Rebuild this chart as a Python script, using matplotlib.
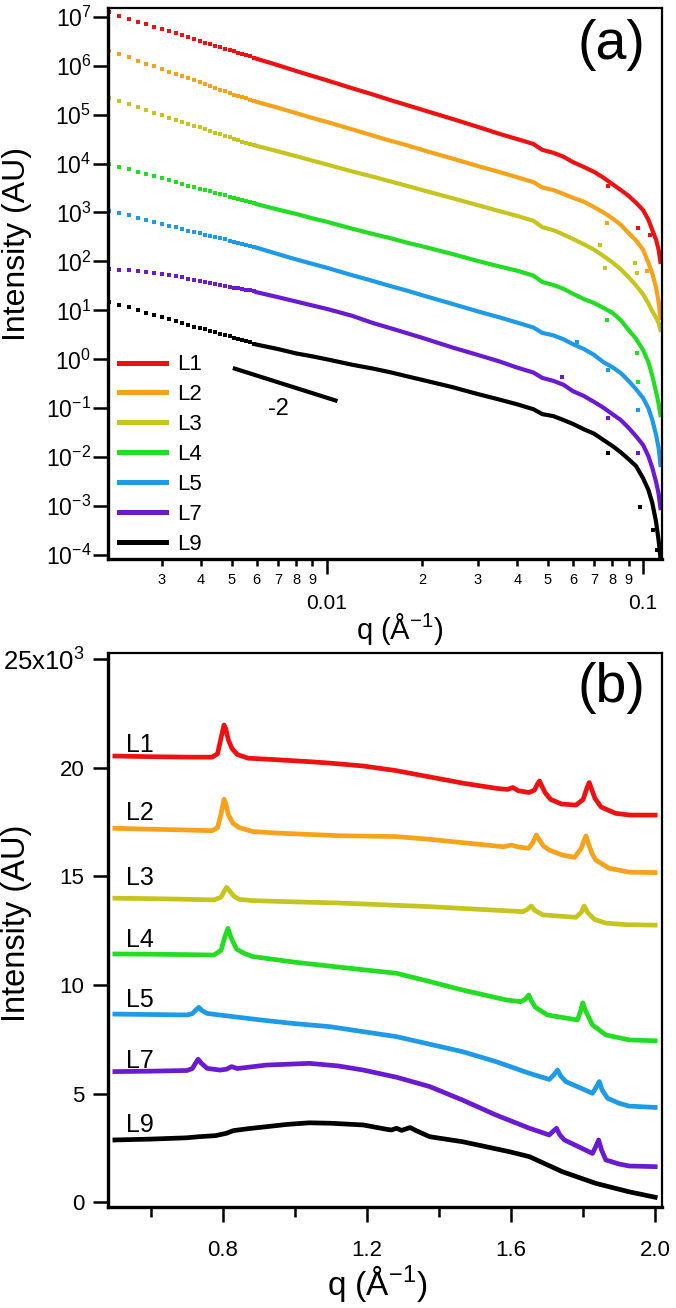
import matplotlib
matplotlib.use("Agg")
import matplotlib.pyplot as plt
from matplotlib.lines import Line2D
from matplotlib.ticker import NullLocator
import numpy as np

plt.rcParams['font.family'] = ['Liberation Sans', 'DejaVu Sans']
plt.rcParams['mathtext.fontset'] = 'custom'
plt.rcParams['mathtext.rm'] = 'Liberation Sans'
plt.rcParams['mathtext.it'] = 'Liberation Sans:italic'
plt.rcParams['mathtext.bf'] = 'Liberation Sans:bold'

names = ['L1', 'L2', 'L3', 'L4', 'L5', 'L7', 'L9']
colors = ['#EE1111', '#F7A21B', '#C6C41E', '#22DD22', '#1E9AE6', '#6A1AD0', '#000000']

# ---- panel (a): SAXS, log10 intensity ----
q_dots = [0.00204, 0.00220, 0.00236, 0.00252, 0.00268, 0.00284, 0.00300, 0.00316,
          0.00332, 0.00348, 0.00364, 0.00380, 0.00396, 0.00412, 0.00428, 0.00444,
          0.00460, 0.00476, 0.00492, 0.00508, 0.00524, 0.00540, 0.00556, 0.00572, 0.00588]
dots_L1 = [7.09, 7.02, 6.96, 6.90, 6.85, 6.80, 6.75, 6.71, 6.66, 6.62, 6.58, 6.54, 6.51,
           6.47, 6.44, 6.41, 6.38, 6.35, 6.32, 6.29, 6.26, 6.24, 6.21, 6.19, 6.16]
dots_L2 = [6.31, 6.24, 6.17, 6.10, 6.04, 5.99, 5.93, 5.88, 5.83, 5.79, 5.74, 5.70, 5.66,
           5.62, 5.58, 5.55, 5.51, 5.48, 5.45, 5.41, 5.38, 5.35, 5.33, 5.30, 5.27]
dots_L3 = [5.34, 5.27, 5.21, 5.15, 5.09, 5.04, 4.99, 4.94, 4.90, 4.85, 4.81, 4.77, 4.74,
           4.70, 4.66, 4.63, 4.60, 4.57, 4.54, 4.51, 4.48, 4.45, 4.43, 4.40, 4.37]
dots_L4 = [3.99, 3.93, 3.88, 3.83, 3.78, 3.74, 3.70, 3.66, 3.62, 3.58, 3.55, 3.52, 3.49,
           3.46, 3.43, 3.40, 3.37, 3.35, 3.32, 3.30, 3.27, 3.25, 3.23, 3.21, 3.19]
dots_L5 = [3.04, 2.99, 2.94, 2.89, 2.85, 2.81, 2.77, 2.73, 2.70, 2.67, 2.63, 2.60, 2.58,
           2.55, 2.52, 2.50, 2.47, 2.45, 2.42, 2.40, 2.38, 2.36, 2.34, 2.32, 2.30]
dots_L7 = [1.84, 1.83, 1.82, 1.80, 1.78, 1.76, 1.74, 1.72, 1.70, 1.68, 1.65, 1.63, 1.61,
           1.59, 1.56, 1.54, 1.52, 1.50, 1.48, 1.46, 1.45, 1.43, 1.42, 1.41, 1.39]
dots_L9 = [1.17, 1.11, 1.06, 1.00, 0.95, 0.91, 0.86, 0.82, 0.78, 0.74, 0.71, 0.67, 0.64,
           0.61, 0.58, 0.55, 0.52, 0.49, 0.47, 0.44, 0.42, 0.39, 0.37, 0.35, 0.32]

q_line = [0.006, 0.007, 0.008, 0.009, 0.010, 0.012, 0.014, 0.016, 0.018, 0.020, 0.025,
          0.030, 0.035, 0.040, 0.045, 0.048, 0.052, 0.056, 0.060, 0.065, 0.070, 0.075,
          0.080, 0.085, 0.090, 0.095, 0.100, 0.104, 0.107, 0.110, 0.112, 0.1135]
line_L1 = [6.14, 6.01, 5.89, 5.79, 5.70, 5.54, 5.41, 5.29, 5.19, 5.10, 4.91, 4.75, 4.61,
           4.50, 4.40, 4.28, 4.22, 4.14, 4.03, 3.93, 3.83, 3.71, 3.58, 3.46, 3.34, 3.20,
           3.05, 2.85, 2.64, 2.44, 2.24, 1.99]
line_L2 = [5.26, 5.14, 5.03, 4.93, 4.85, 4.70, 4.57, 4.46, 4.37, 4.28, 4.10, 3.95, 3.83,
           3.72, 3.62, 3.51, 3.46, 3.38, 3.30, 3.22, 3.11, 3.00, 2.88, 2.75, 2.58, 2.43,
           2.24, 1.97, 1.75, 1.46, 1.17, 0.84]
line_L3 = [4.36, 4.25, 4.15, 4.06, 3.98, 3.84, 3.73, 3.63, 3.54, 3.46, 3.29, 3.15, 3.03,
           2.93, 2.83, 2.70, 2.64, 2.55, 2.46, 2.35, 2.24, 2.11, 1.98, 1.84, 1.68, 1.51,
           1.33, 1.14, 0.98, 0.85, 0.74, 0.60]
line_L4 = [3.17, 3.06, 2.97, 2.88, 2.81, 2.67, 2.56, 2.47, 2.38, 2.31, 2.15, 2.01, 1.90,
           1.81, 1.71, 1.58, 1.52, 1.44, 1.34, 1.23, 1.15, 1.05, 0.95, 0.80, 0.60, 0.42,
           0.19, -0.06, -0.34, -0.67, -0.91, -1.14]
line_L5 = [2.28, 2.15, 2.04, 1.95, 1.87, 1.72, 1.60, 1.49, 1.40, 1.31, 1.13, 0.98, 0.86,
           0.75, 0.65, 0.54, 0.49, 0.41, 0.31, 0.21, 0.09, -0.06, -0.16, -0.28, -0.44,
           -0.61, -0.79, -1.00, -1.24, -1.55, -1.81, -2.16]
line_L7 = [1.37, 1.27, 1.18, 1.10, 1.03, 0.89, 0.74, 0.63, 0.53, 0.44, 0.24, 0.09, -0.04,
           -0.17, -0.27, -0.38, -0.44, -0.52, -0.65, -0.75, -0.87, -0.99, -1.12, -1.24,
           -1.40, -1.57, -1.75, -1.98, -2.22, -2.51, -2.75, -3.04]
line_L9 = [0.30, 0.21, 0.12, 0.06, 0.00, -0.11, -0.19, -0.27, -0.35, -0.42, -0.57, -0.71,
           -0.82, -0.92, -1.02, -1.12, -1.16, -1.24, -1.32, -1.43, -1.52, -1.65, -1.77,
           -1.90, -2.04, -2.18, -2.43, -2.67, -2.94, -3.33, -3.70, -4.06]

# stray noisy points at high q (q, log10 I)
out_q_L1, out_I_L1 = [0.0775, 0.0964, 0.1050], [3.54, 2.69, 2.55]
out_q_L2, out_I_L2 = [0.0769, 0.1030], [2.79, 1.80]
out_q_L3, out_I_L3 = [0.0731, 0.0759, 0.0944, 0.0958], [2.34, 1.87, 1.97, 1.76]
out_q_L4, out_I_L4 = [0.0769, 0.0958, 0.0964], [0.80, 0.13, -0.46]
out_q_L5, out_I_L5 = [0.0618, 0.0775, 0.0964], [0.35, -0.22, -1.04]
out_q_L7, out_I_L7 = [0.0555, 0.0775, 0.0964], [-0.36, -1.20, -1.92]
out_q_L9, out_I_L9 = [0.0775, 0.0979, 0.1076, 0.1107], [-1.92, -3.02, -3.49, -3.90]

guide_q = [0.00504, 0.0108]
guide_I = [0.664, 0.14]

# ---- panel (b): WAXS, intensity in units of 10^3 ----
b_q_L1 = [0.50, 0.60, 0.70, 0.77, 0.785, 0.795, 0.803, 0.808, 0.815, 0.825, 0.84, 0.87,
          0.95, 1.05, 1.10, 1.19, 1.28, 1.37, 1.47, 1.56, 1.59, 1.605, 1.62, 1.65, 1.665,
          1.673, 1.679, 1.686, 1.695, 1.71, 1.74, 1.78, 1.80, 1.810, 1.817, 1.824, 1.833,
          1.85, 1.89, 1.93, 2.00]
b_I_L1 = [20.55, 20.52, 20.50, 20.50, 20.65, 21.40, 21.98, 21.80, 21.30, 20.90, 20.62,
          20.45, 20.38, 20.28, 20.22, 20.09, 19.88, 19.60, 19.29, 19.06, 19.01, 19.10,
          18.95, 18.87, 18.98, 19.25, 19.40, 19.15, 18.85, 18.55, 18.34, 18.29, 18.55,
          19.05, 19.33, 19.00, 18.60, 18.20, 17.91, 17.83, 17.83]
b_q_L2 = [0.50, 0.60, 0.70, 0.77, 0.785, 0.795, 0.803, 0.808, 0.815, 0.828, 0.845, 0.883,
          0.95, 1.05, 1.12, 1.28, 1.37, 1.465, 1.578, 1.601, 1.62, 1.648, 1.660, 1.670,
          1.678, 1.690, 1.706, 1.742, 1.776, 1.795, 1.802, 1.808, 1.815, 1.825, 1.835,
          1.872, 1.928, 2.00]
b_I_L2 = [17.22, 17.18, 17.14, 17.11, 17.25, 17.90, 18.56, 18.35, 17.85, 17.45, 17.25,
          17.07, 17.00, 16.93, 16.88, 16.84, 16.72, 16.56, 16.37, 16.45, 16.36, 16.30,
          16.55, 16.91, 16.70, 16.40, 16.22, 15.99, 15.88, 16.30, 16.65, 16.87, 16.50,
          16.05, 15.76, 15.38, 15.20, 15.18]
b_q_L3 = [0.50, 0.60, 0.70, 0.775, 0.795, 0.803, 0.81, 0.818, 0.83, 0.845, 0.88, 1.00,
          1.12, 1.374, 1.633, 1.645, 1.656, 1.665, 1.688, 1.78, 1.795, 1.803, 1.812, 1.831,
          1.863, 1.92, 2.00]
b_I_L3 = [14.00, 13.98, 13.95, 13.92, 14.05, 14.30, 14.50, 14.35, 14.10, 13.95, 13.89,
          13.83, 13.78, 13.61, 13.38, 13.48, 13.64, 13.45, 13.23, 13.12, 13.35, 13.64,
          13.35, 13.03, 12.85, 12.78, 12.76]
b_q_L4 = [0.50, 0.60, 0.70, 0.775, 0.795, 0.805, 0.814, 0.822, 0.838, 0.86, 0.883, 1.00,
          1.124, 1.282, 1.374, 1.465, 1.587, 1.627, 1.640, 1.649, 1.657, 1.667, 1.701,
          1.784, 1.792, 1.799, 1.807, 1.826, 1.863, 1.928, 2.00]
b_I_L4 = [11.43, 11.42, 11.40, 11.38, 11.60, 12.20, 12.61, 12.20, 11.65, 11.45, 11.31,
          11.05, 10.82, 10.54, 10.16, 9.77, 9.31, 9.23, 9.35, 9.54, 9.25, 8.98, 8.62, 8.39,
          8.75, 9.18, 8.80, 8.16, 7.70, 7.47, 7.43]
b_q_L5 = [0.50, 0.60, 0.70, 0.715, 0.725, 0.733, 0.742, 0.756, 0.79, 0.829, 0.92, 1.00,
          1.097, 1.282, 1.465, 1.558, 1.651, 1.706, 1.718, 1.729, 1.738, 1.752, 1.80,
          1.826, 1.835, 1.845, 1.853, 1.868, 1.90, 1.928, 2.00]
b_I_L5 = [8.66, 8.64, 8.62, 8.68, 8.85, 8.97, 8.82, 8.69, 8.62, 8.54, 8.36, 8.22, 8.08,
          7.62, 6.93, 6.47, 5.93, 5.65, 5.85, 6.08, 5.80, 5.55, 5.20, 5.01, 5.25, 5.55,
          5.15, 4.78, 4.55, 4.42, 4.36]
b_q_L7 = [0.50, 0.60, 0.70, 0.715, 0.724, 0.731, 0.740, 0.756, 0.792, 0.810, 0.824, 0.84,
          0.92, 1.04, 1.12, 1.19, 1.282, 1.374, 1.465, 1.558, 1.651, 1.706, 1.716, 1.726,
          1.735, 1.748, 1.826, 1.835, 1.843, 1.851, 1.863, 1.90, 1.928, 2.00]
b_I_L7 = [6.01, 6.03, 6.06, 6.15, 6.40, 6.58, 6.40, 6.16, 6.08, 6.12, 6.24, 6.15, 6.31,
          6.39, 6.27, 6.08, 5.75, 5.32, 4.70, 4.01, 3.40, 3.09, 3.25, 3.40, 3.10, 2.86,
          2.24, 2.55, 2.86, 2.40, 1.94, 1.75, 1.66, 1.63]
b_q_L9 = [0.50, 0.60, 0.70, 0.733, 0.78, 0.81, 0.829, 0.87, 0.92, 0.98, 1.04, 1.10, 1.19,
          1.255, 1.268, 1.282, 1.296, 1.31, 1.32, 1.335, 1.374, 1.465, 1.595, 1.651, 1.742,
          1.835, 1.928, 2.00]
b_I_L9 = [2.86, 2.90, 2.96, 3.01, 3.06, 3.17, 3.29, 3.38, 3.47, 3.58, 3.65, 3.63, 3.55,
          3.35, 3.32, 3.40, 3.30, 3.38, 3.43, 3.30, 3.01, 2.78, 2.32, 2.09, 1.40, 0.86,
          0.47, 0.22]

a_dots = [dots_L1, dots_L2, dots_L3, dots_L4, dots_L5, dots_L7, dots_L9]
a_line = [line_L1, line_L2, line_L3, line_L4, line_L5, line_L7, line_L9]
a_out = [(out_q_L1, out_I_L1), (out_q_L2, out_I_L2), (out_q_L3, out_I_L3),
         (out_q_L4, out_I_L4), (out_q_L5, out_I_L5), (out_q_L7, out_I_L7),
         (out_q_L9, out_I_L9)]
b_q = [b_q_L1, b_q_L2, b_q_L3, b_q_L4, b_q_L5, b_q_L7, b_q_L9]
b_I = [b_I_L1, b_I_L2, b_I_L3, b_I_L4, b_I_L5, b_I_L7, b_I_L9]

fig = plt.figure(figsize=(6.76, 13.08), dpi=100)
ax_a = fig.add_axes([0.1598, 0.5726, 0.8195, 0.4213])
ax_b = fig.add_axes([0.1598, 0.0772, 0.8195, 0.4236])

# panel (a)
for col, dots, line, (oq, oi) in zip(colors, a_dots, a_line, a_out):
    ax_a.plot(q_dots, np.power(10.0, dots), ls='none', marker='s', ms=3.2, mew=0, color=col)
    ax_a.plot(q_line, np.power(10.0, line), '-', lw=3.0, color=col)
    ax_a.plot(oq, np.power(10.0, oi), ls='none', marker='s', ms=2.8, mew=0, color=col)

ax_a.plot(guide_q, guide_I, color='k', lw=3.0, solid_capstyle='butt')
ax_a.text(0.0070, 0.095, '-2', fontsize=17, ha='center', va='center')

ax_a.set_xscale('log')
ax_a.set_yscale('log')
ax_a.set_xlim(0.00203, 0.1148)
ax_a.set_ylim(8.3e-5, 1.51e7)

decades = list(range(-4, 8))
ax_a.set_yticks([10.0 ** k for k in decades])
ax_a.set_yticklabels(['10$^{%d}$' % k for k in decades])
ax_a.yaxis.set_minor_locator(NullLocator())

ax_a.set_xticks([0.01, 0.1])
ax_a.set_xticklabels(['0.01', '0.1'])
minor_x = [0.003, 0.004, 0.005, 0.006, 0.007, 0.008, 0.009,
           0.02, 0.03, 0.04, 0.05, 0.06, 0.07, 0.08, 0.09]
minor_lab = ['3', '4', '5', '6', '7', '8', '9', '2', '3', '4', '5', '6', '7', '8', '9']
ax_a.set_xticks(minor_x, minor=True)
ax_a.set_xticklabels(minor_lab, minor=True)

ax_a.tick_params(axis='y', which='major', direction='out', length=11, width=1.8,
                 pad=1, labelsize=16.5)
ax_a.tick_params(axis='x', which='major', direction='out', length=11, width=1.8,
                 pad=14, labelsize=15)
ax_a.tick_params(axis='x', which='minor', direction='out', length=5, width=1.8,
                 pad=5, labelsize=10.5)

handles = [Line2D([], [], color=c, lw=3.6) for c in colors]
ax_a.legend(handles, names, loc='lower left', bbox_to_anchor=(0.02, 0.008),
            frameon=False, fontsize=16, handlelength=2.1, handletextpad=0.5,
            labelspacing=0.4, borderpad=0.0, borderaxespad=0.0)

ax_a.set_ylabel('Intensity (AU)', fontsize=23)
ax_a.yaxis.set_label_coords(-0.137, 0.571)
ax_a.set_xlabel('q (Å$^{-1}$)', fontsize=21)
ax_a.xaxis.set_label_coords(0.527, -0.094)
ax_a.text(0.908, 0.933, '(a)', transform=ax_a.transAxes, fontsize=40,
          ha='center', va='center')

# panel (b)
label_y = [20.74, 17.60, 14.61, 11.75, 8.99, 6.18, 3.23]
for name, col, qq, ii, ly in zip(names, colors, b_q, b_I, label_y):
    ax_b.plot(qq, ii, '-', lw=3.4, color=col, solid_joinstyle='round')
    ax_b.text(0.531, ly, name, fontsize=18, ha='left', va='baseline')

ax_b.set_xlim(0.481, 2.019)
ax_b.set_ylim(-0.23, 25.3)
ax_b.set_yticks([0, 5, 10, 15, 20, 25])
ylabels_b = ax_b.set_yticklabels(['0', '5', '10', '15', '20', '25x10$^{3}$'])
ax_b.set_xticks([0.8, 1.2, 1.6, 2.0])
ax_b.set_xticklabels(['0.8', '1.2', '1.6', '2.0'])
ax_b.set_xticks([0.6, 1.0, 1.4, 1.8], minor=True)
ax_b.tick_params(axis='y', which='major', direction='out', length=11, width=1.8,
                 pad=6, labelsize=16)
ax_b.tick_params(axis='x', which='major', direction='out', length=11, width=1.8,
                 pad=13, labelsize=16)
ax_b.tick_params(axis='x', which='minor', direction='out', length=7, width=1.8)
ylabels_b[-1].set_fontsize(18.5)

ax_b.set_ylabel('Intensity (AU)', fontsize=23.5)
ax_b.yaxis.set_label_coords(-0.137, 0.512)
ax_b.set_xlabel('q (Å$^{-1}$)', fontsize=24)
ax_b.xaxis.set_label_coords(0.486, -0.101)
ax_b.text(0.908, 0.937, '(b)', transform=ax_b.transAxes, fontsize=40,
          ha='center', va='center')

for ax in (ax_a, ax_b):
    ax.spines['left'].set_linewidth(2.4)
    ax.spines['bottom'].set_linewidth(2.4)
    ax.spines['top'].set_linewidth(1.6)
    ax.spines['right'].set_linewidth(1.6)

fig.savefig('out.png', dpi=100)
